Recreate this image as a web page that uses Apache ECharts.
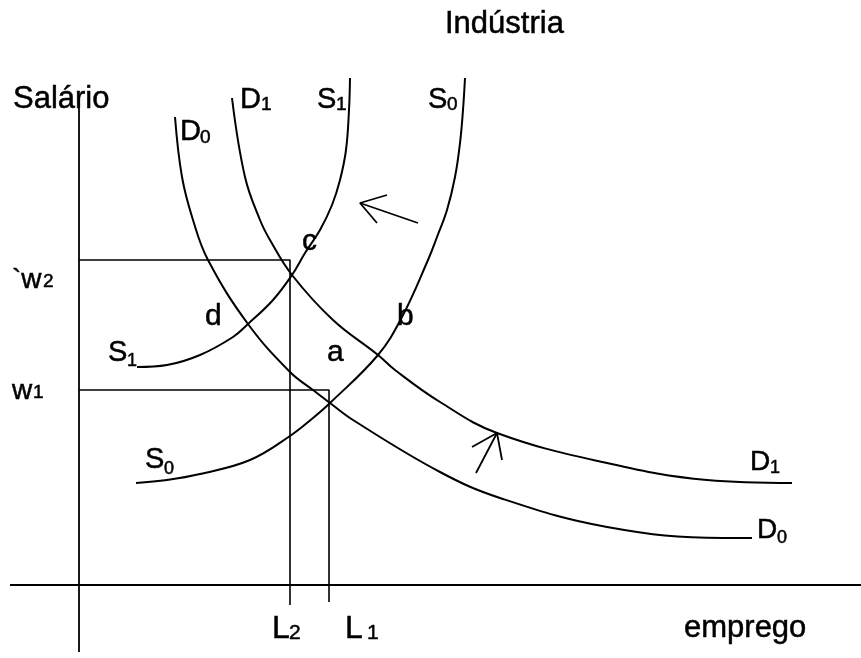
<!DOCTYPE html>
<html>
<head>
<meta charset="utf-8">
<script src="https://cdn.jsdelivr.net/npm/echarts@6/dist/echarts.min.js"></script>
<style>
  html, body { margin: 0; padding: 0; background: #fff; }
  #main { width: 861px; height: 658px; }
</style>
</head>
<body>
<div id="main"></div>
<script>
// curves (x = emprego, y = salario, screen units)
var d0Curve = [[175,117],[182,177],[193,220],[208,260],[248,324],[290,372],[313,390],[330,403],[353,420],
               [440,472],[500,498],[607,527],[723,538],[752,538]];
var d1Curve = [[232,98],[245,177],[260,220],[270,240],[292,275],[333,320],[378,355],[395,370],[440,402],
               [497,433],[607,463],[707,480],[792,483]];
var s0Curve = [[465,78],[463,110],[460,143],[455,177],[447,210],[437,237],[428,260],[402,317],[378,355],
               [330,403],[313,418],[290,436],[250,460],[200,474],[167,480],[136,483]];
var s1Curve = [[350,78],[349,110],[346,150],[340,180],[332,205],[320,230],[305,253],[292,275],[273,300],[248,324],
               [233,337],[200,355],[167,365],[137,367]];

var yAxisLine = [[79,98],[79,652]];
var xAxisLine = [[10,585],[861,585]];
var w2Guide = [[79,260],[290,260],[290,605]];
var w1Guide = [[79,390],[329,390],[329,602]];

var arrowUp = [[[418,223],[360,203]],[[387,195],[360,203],[377,223]]];
var arrowDown = [[[476,473],[497,433]],[[472,447],[497,433],[502,460]]];

// text, left x, middle y, font size
var labelTexts = ['Indústria','Salário','D','1','S','1','S','0','D','0','`w','2','w','1',
                  'c','d','a','b','S','1','S','0','D','1','D','0','L','2','L','1','emprego'];
var labelSpots = [[445,24],[13,99],[240,100],[261,105],[317,100],[336,105],[428,100],[447,105],
                  [180,132],[200,138],[12,280],[43,282],[12,391],[33,393],
                  [302,242],[205,317],[327,353],[397,317],[108,353],[127,361],[145,460],[164,469],
                  [750,462],[770,468],[757,530],[777,538],[272,629],[289,633],[345,629],[367,633],[684,628]];
var labelSizes = [31,31,29,19,29,19,29,19,29,19,28,19,28,19,30,30,30,30,29,18,29,18,28,18,28,18,32,21,32,21,31];

var myChart = echarts.init(document.getElementById('main'));

var series = [];
function addLine(points, smooth, width) {
    series.push({
        type: 'line',
        data: points,
        smooth: smooth,
        showSymbol: false,
        silent: true,
        lineStyle: {color: '#000', width: width}
    });
}
addLine(d0Curve, 0.4, 2);
addLine(d1Curve, 0.4, 2);
addLine(s0Curve, 0.4, 2);
addLine(s1Curve, 0.4, 2);
addLine(yAxisLine, false, 1.8);
addLine(xAxisLine, false, 1.8);
addLine(w2Guide, false, 1.6);
addLine(w1Guide, false, 1.6);
arrowUp.concat(arrowDown).forEach(function (seg) { addLine(seg, false, 1.8); });

var labelData = labelTexts.map(function (t, i) {
    return {
        value: labelSpots[i],
        label: {formatter: t, fontSize: labelSizes[i], color: '#000'}
    };
});
series.push({
    type: 'scatter',
    symbolSize: 0,
    silent: true,
    data: labelData,
    label: {
        show: true,
        position: [0, 0],
        align: 'left',
        verticalAlign: 'middle',
        color: '#000',
        opacity: 1,
        textBorderColor: '#000',
        textBorderWidth: 0.5,
        fontFamily: 'Liberation Sans'
    }
});

var option = {
    animation: false,
    backgroundColor: '#fff',
    grid: {left: 0, right: 0, top: 0, bottom: 0},
    xAxis: {type: 'value', min: 0, max: 861, show: false},
    yAxis: {type: 'value', min: 0, max: 658, inverse: true, show: false},
    series: series
};
myChart.setOption(option);
</script>
</body>
</html>
